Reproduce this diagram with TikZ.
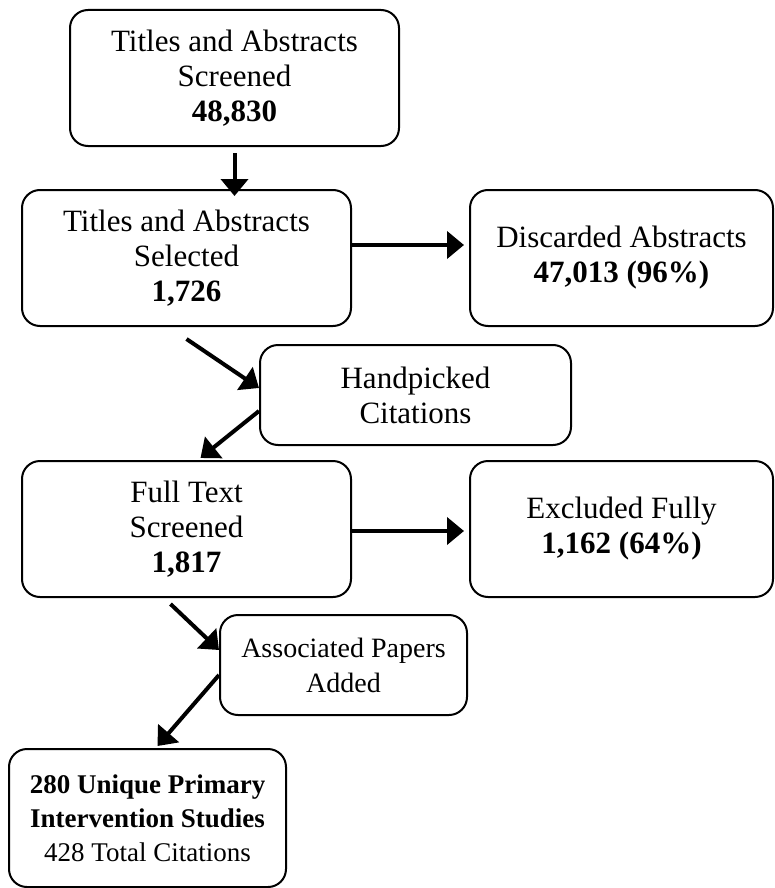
\documentclass[tikz,border=0pt]{standalone}
\usepackage{fontspec}
\setmainfont{Liberation Serif}
\usetikzlibrary{arrows.meta, positioning}

\begin{document}
\begin{tikzpicture}[x=1pt, y=-1pt,
    box/.style={rectangle, rounded corners=18pt, draw=black, line width=2pt, fill=white, minimum width=329pt, minimum height=136pt, inner sep=0pt, align=center, font=\fontsize{31}{35}\selectfont},
    smallbox/.style={box, minimum height=100pt},
    arrow/.style={-{Triangle[length=17pt, width=27pt]}, line width=4pt, color=black}
]

\useasboundingbox (0,0) rectangle (775,888);

\node[box] (screened) at (234.5,78) {Titles and Abstracts\\Screened\\\textbf{48,830}};
\node[box] (selected) at (186.5,258) {Titles and Abstracts\\Selected\\\textbf{1,726}};
\node[box, minimum width=303pt] (discarded) at (621.5,258) {Discarded Abstracts\\\textbf{47,013 (96\%)}};
\node[smallbox, minimum width=311pt] (handpicked) at (415.5,395) {Handpicked\\Citations};
\node[box] (fulltext) at (186.5,529) {Full Text\\Screened\\\textbf{1,817}};
\node[box, minimum width=303pt] (excluded) at (621.5,529) {Excluded Fully\\\textbf{1,162 (64\%)}};
\node[smallbox, minimum width=247pt, font=\fontsize{28}{35}\selectfont] (associated) at (343.5,665) {Associated Papers\\Added};
\node[box, minimum width=277pt, minimum height=138pt, font=\fontsize{27}{34}\selectfont] (studies) at (147.5,818) {\textbf{280 Unique Primary}\\\textbf{Intervention Studies}\\428 Total Citations};

\draw[arrow, shorten <=6pt, shorten >=-7pt] (screened.south) -- (screened.south |- selected.north);
\draw[arrow, shorten >=5pt] ([yshift=13pt]selected.east) -- ([yshift=13pt]discarded.west);
\draw[arrow, shorten >=5pt] ([yshift=-2pt]fulltext.east) -- ([yshift=-2pt]excluded.west);

% Side inputs
\draw[arrow] ([yshift=-12pt]selected.south) -- ([yshift=7pt]handpicked.west);
\draw[arrow] ([yshift=-16pt]handpicked.west) -- ([xshift=14pt, yshift=2pt]fulltext.north);
\draw[arrow] ([xshift=-16pt, yshift=-6pt]fulltext.south) -- ([yshift=15pt]associated.west);
\draw[arrow] ([yshift=-10pt]associated.west) -- ([xshift=10pt, yshift=2pt]studies.north);

\end{tikzpicture}
\end{document}
